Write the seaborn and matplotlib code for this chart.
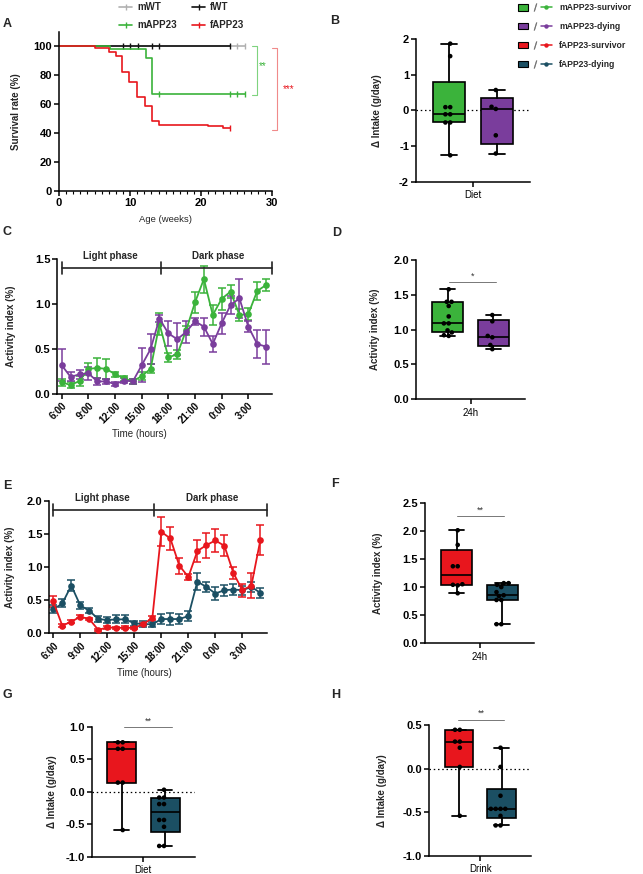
import numpy as np
import pandas as pd
import matplotlib
matplotlib.use("Agg")
import matplotlib.pyplot as plt
import seaborn as sns
from matplotlib.lines import Line2D
from matplotlib.patches import Patch
from matplotlib.legend_handler import HandlerTuple

# ---------------- DATA ----------------
# Panel A: Kaplan-Meier survival (weeks, %)
fWT_t = [0, 24.1]
fWT_s = [100, 100]
fWT_cens = [9.0, 10.0, 11.1, 13.1, 14.1, 24.1]
mWT_t = [0, 26.2]
mWT_s = [100, 100]
mWT_cens = [25.0, 26.2]
mAPP_t = [0, 7.2, 12.2, 13.1, 26.2]
mAPP_s = [100, 98, 91.5, 66.7, 66.7]
mAPP_cens = [14.1, 24.1, 25.0, 26.2]
fAPP_t = [0, 5.1, 7.1, 8.0, 8.9, 9.9, 11.0, 12.1, 13.05, 14.0, 21.0, 23.05, 24.1]
fAPP_s = [100, 99, 95.9, 92.9, 82.3, 75.1, 65.1, 58.7, 48.5, 45.7, 44.6, 43.4, 43.4]
fAPP_cens = [24.1]

# Panels C / E: hourly activity (index 0 = 6:00)
hours = list(range(24))
time_tick_hours = [0, 3, 6, 9, 12, 15, 18, 21]
time_tick_labels = ["6:00", "9:00", "12:00", "15:00", "18:00", "21:00", "0:00", "3:00"]

C_surv = [0.13, 0.10, 0.145, 0.28, 0.29, 0.28, 0.22, 0.175, 0.14, 0.20, 0.28, 0.78,
          0.41, 0.44, 0.71, 1.02, 1.28, 0.88, 1.06, 1.14, 0.88, 0.89, 1.147, 1.214]
C_surv_err = [0.04, 0.03, 0.06, 0.07, 0.11, 0.11, 0.03, 0.03, 0.03, 0.04, 0.05, 0.12,
              0.05, 0.05, 0.05, 0.12, 0.15, 0.11, 0.12, 0.07, 0.07, 0.07, 0.10, 0.07]
C_dying = [0.32, 0.19, 0.22, 0.23, 0.14, 0.14, 0.11, 0.15, 0.14, 0.32, 0.50, 0.84,
           0.675, 0.61, 0.69, 0.81, 0.75, 0.557, 0.787, 0.99, 1.065, 0.75, 0.557, 0.527]
C_dying_err = [0.18, 0.05, 0.05, 0.07, 0.04, 0.03, 0.02, 0.03, 0.03, 0.19, 0.17, 0.04,
               0.14, 0.18, 0.12, 0.04, 0.10, 0.09, 0.12, 0.10, 0.22, 0.06, 0.16, 0.19]

E_surv = [0.48, 0.115, 0.175, 0.25, 0.215, 0.05, 0.09, 0.08, 0.085, 0.08, 0.14, 0.23,
          1.53, 1.43, 1.02, 0.85, 1.24, 1.33, 1.40, 1.32, 0.91, 0.65, 0.72, 1.41]
E_surv_err = [0.08, 0.02, 0.02, 0.02, 0.02, 0.02, 0.02, 0.02, 0.02, 0.02, 0.02, 0.03,
              0.22, 0.18, 0.12, 0.05, 0.17, 0.19, 0.17, 0.16, 0.09, 0.10, 0.19, 0.23]
E_dying = [0.36, 0.45, 0.72, 0.42, 0.34, 0.215, 0.20, 0.21, 0.21, 0.15, 0.14, 0.135,
           0.215, 0.215, 0.215, 0.26, 0.78, 0.70, 0.60, 0.65, 0.66, 0.65, 0.70, 0.61]
E_dying_err = [0.06, 0.06, 0.08, 0.05, 0.04, 0.04, 0.05, 0.06, 0.06, 0.04, 0.04, 0.04,
               0.08, 0.09, 0.08, 0.07, 0.13, 0.08, 0.10, 0.08, 0.08, 0.07, 0.08, 0.08]

# Box panels (individual animals)
B_surv = [1.87, 1.52, 0.09, 0.09, -0.11, -0.11, -0.34, -0.34, -1.26]
B_dying = [0.57, 0.10, 0.04, -0.70, -1.21]
D_surv = [1.58, 1.40, 1.40, 1.34, 1.19, 1.09, 1.09, 0.99, 0.96, 0.92, 0.91]
D_dying = [1.21, 1.12, 0.91, 0.89, 0.78, 0.72]
F_surv = [2.01, 1.75, 1.37, 1.37, 1.05, 1.04, 1.03, 0.89]
F_dying = [1.07, 1.07, 1.04, 1.00, 0.91, 0.855, 0.84, 0.77, 0.77, 0.34, 0.34]
G_surv = [0.76, 0.76, 0.66, 0.66, 0.14, 0.14, -0.59]
G_dying = [0.03, -0.09, -0.09, -0.19, -0.19, -0.435, -0.435, -0.54, -0.835, -0.835]
H_surv = [0.445, 0.445, 0.31, 0.31, 0.24, 0.02, -0.54]
H_dying = [0.24, 0.02, -0.31, -0.46, -0.46, -0.46, -0.46, -0.54, -0.65, -0.65]

# ---------------- STYLE ----------------
GREEN = "#3bb33b"
PURPLE = "#7a3d9c"
RED = "#e8161d"
TEAL = "#1b4f63"
GRAY = "#b0b0b0"
BLACK = "#111111"

sns.set_theme(style="ticks")
plt.rcParams["font.family"] = ["Liberation Sans", "DejaVu Sans"]
plt.rcParams["axes.unicode_minus"] = False
plt.rcParams["axes.edgecolor"] = "black"
plt.rcParams["xtick.color"] = "black"
plt.rcParams["ytick.color"] = "black"

W, H = 643, 874
fig = plt.figure(figsize=(W / 100, H / 100), dpi=100)


def add_ax(l, r, t, b):
    return fig.add_axes([l / W, 1 - b / H, (r - l) / W, (b - t) / H])


def style_ax(ax):
    sns.despine(ax=ax)
    for s in ["left", "bottom"]:
        ax.spines[s].set_linewidth(1.1)
        ax.spines[s].set_color("black")
    ax.tick_params(axis="both", which="major", length=3.5, width=1.1, pad=1.5)


def set_yt(ax, ticks, fmt):
    ax.set_yticks(ticks, labels=[fmt.format(t) for t in ticks], fontsize=8, fontweight="bold")


def ylab(ax, text, xfrac):
    ax.set_ylabel(text, fontsize=7, fontweight="bold")
    ax.yaxis.set_label_coords(xfrac, 0.5)


def surv_at(t, times, surv):
    i = np.searchsorted(times, t, side="right") - 1
    return surv[i]


# ---------------- PANEL A ----------------
axA = add_ax(59, 272.3, 31.7, 190.7)
curves = [
    (mWT_t, mWT_s, mWT_cens, GRAY, "mWT"),
    (fWT_t, fWT_s, fWT_cens, BLACK, "fWT"),
    (mAPP_t, mAPP_s, mAPP_cens, GREEN, "mAPP23"),
    (fAPP_t, fAPP_s, fAPP_cens, RED, "fAPP23"),
]
for t, s, c, col, lab in curves:
    sns.lineplot(x=t, y=s, drawstyle="steps-post", color=col, lw=1.2, ax=axA,
                 estimator=None, sort=False)
    axA.plot(c, [surv_at(ci, t, s) for ci in c], marker="|", ls="none", ms=4.5,
             mew=1.0, color=col, clip_on=False)
axA.set_xlim(0, 30)
axA.set_ylim(0, 110)
style_ax(axA)
axA.set_xticks([0, 10, 20, 30], labels=["0", "10", "20", "30"], fontsize=8, fontweight="bold")
axA.set_xticks(np.arange(0, 31, 1), minor=True)
axA.tick_params(axis="x", which="minor", length=2, width=0.8)
set_yt(axA, [0, 20, 40, 60, 80, 100], "{:d}")
axA.set_xlabel("Age (weeks)", fontsize=6.8)
axA.xaxis.set_label_coords(0.5, -0.15)
ylab(axA, "Survival rate (%)", -0.18)
# significance brackets
axA.plot([27.1, 27.8, 27.8, 27.1], [99.8, 99.8, 66.3, 66.3], color="#7fd37f", lw=0.8, clip_on=False)
axA.text(28.7, 86, "**", color=GREEN, fontsize=7, ha="center", va="center", clip_on=False)
axA.plot([29.9, 30.6, 30.6, 29.9], [99, 99, 42, 42], color="#f08a8a", lw=0.8, clip_on=False)
axA.text(32.3, 70, "***", color=RED, fontsize=7, ha="center", va="center", clip_on=False)

handlesA = [Line2D([0], [0], color=col, lw=1.2, marker="|", ms=4, mew=1.0) for _, _, _, col, _ in curves]
labelsA = [lab for *_, lab in curves]
# column-major: col1 = mWT, mAPP23 ; col2 = fWT, fAPP23
order = [0, 2, 1, 3]
fig.legend([handlesA[i] for i in order], [labelsA[i] for i in order], ncol=2,
           loc="upper left", bbox_to_anchor=(119 / W, 1 - 2.5 / H), frameon=False,
           prop={"weight": "bold", "size": 7}, handlelength=1.35, handletextpad=0.5,
           columnspacing=1.6, labelspacing=0.8, borderpad=0, borderaxespad=0)


# ---------------- BOX PANELS ----------------
def box_stats(vals):
    v = np.asarray(vals, dtype=float)
    q1, med, q3 = np.percentile(v, [25, 50, 75], method="weibull")
    return dict(med=med, q1=q1, q3=q3, whislo=v.min(), whishi=v.max(), fliers=[])


def box_panel(ax, cond, surv, dying, colors, ylim, yticks, yfmt, ylabel, ylabx,
              zero=False, sig=None):
    df = pd.DataFrame({
        "cond": [cond] * (len(surv) + len(dying)),
        "group": ["survivor"] * len(surv) + ["dying"] * len(dying),
        "value": list(surv) + list(dying),
    })
    sns.swarmplot(data=df, x="cond", y="value", hue="group", hue_order=["survivor", "dying"],
                  palette=["black", "black"], dodge=True, size=3.3, ax=ax, legend=False,
                  zorder=4)
    bp = ax.bxp([box_stats(surv), box_stats(dying)], positions=[-0.21, 0.21], widths=0.28,
                patch_artist=True, showfliers=False, manage_ticks=False,
                boxprops=dict(edgecolor="black", linewidth=1.2),
                medianprops=dict(color="black", linewidth=1.2),
                whiskerprops=dict(color="black", linewidth=1.3),
                capprops=dict(color="black", linewidth=1.3), zorder=2)
    for p, c in zip(bp["boxes"], colors):
        p.set_facecolor(c)
    if zero:
        ax.axhline(0, color="black", lw=0.9, ls=(0, (1.2, 2.2)), zorder=1)
    ax.set_xlim(-0.5, 0.5)
    ax.set_ylim(*ylim)
    style_ax(ax)
    ax.set_xticks([0], labels=[cond], fontsize=7)
    ax.tick_params(axis="x", pad=2.5)
    ax.set_xlabel("")
    set_yt(ax, yticks, yfmt)
    ylab(ax, ylabel, ylabx)
    if sig is not None:
        x0, x1, y, ys, txt = sig
        ax.plot([x0, x1], [y, y], color="#777777", lw=0.7, clip_on=False)
        ax.text((x0 + x1) / 2, ys, txt, fontsize=6.5, ha="center", va="center", color="#333333")


axB = add_ax(416, 530, 39, 181.7)
box_panel(axB, "Diet", B_surv, B_dying, [GREEN, PURPLE], (-2, 2), [-2, -1, 0, 1, 2], "{:d}",
          "\u0394 Intake (g/day)", -0.30, zero=True)

axD = add_ax(416, 525, 260, 399.3)
box_panel(axD, "24h", D_surv, D_dying, [GREEN, PURPLE], (0, 2), [0, 0.5, 1.0, 1.5, 2.0], "{:.1f}",
          "Activity index (%)", -0.33, sig=(-0.195, 0.234, 1.68, 1.77, "*"))

axF = add_ax(425, 534, 502.7, 643.3)
box_panel(axF, "24h", F_surv, F_dying, [RED, TEAL], (0, 2.5), [0, 0.5, 1.0, 1.5, 2.0, 2.5], "{:.1f}",
          "Activity index (%)", -0.383, sig=(-0.21, 0.225, 2.27, 2.37, "**"))

axG = add_ax(91.7, 195, 726.7, 856.7)
box_panel(axG, "Diet", G_surv, G_dying, [RED, TEAL], (-1, 1), [-1.0, -0.5, 0.0, 0.5, 1.0], "{:.1f}",
          "\u0394 Intake (g/day)", -0.333, zero=True, sig=(-0.184, 0.275, 0.995, 1.08, "**"))

axH = add_ax(429.3, 531, 725, 856)
box_panel(axH, "Drink", H_surv, H_dying, [RED, TEAL], (-1, 0.5), [-1.0, -0.5, 0.0, 0.5], "{:.1f}",
          "\u0394 Intake (g/day)", -0.419, zero=True, sig=(-0.22, 0.237, 0.56, 0.63, "**"))


# ---------------- TIME-COURSE PANELS ----------------
def time_panel(ax, series, ylim, yticks, ytop_bar, tick_h, txt_y, xlim, ylabx, xlab_xy):
    for vals, errs, col in series:
        ax.errorbar(hours, vals, yerr=errs, fmt="none", ecolor=col, elinewidth=1.1,
                    capsize=2.6, capthick=1.1, zorder=2)
        sns.lineplot(x=hours, y=vals, color=col, marker="o", markersize=4.8,
                     markeredgewidth=0, lw=1.3, ax=ax, zorder=3)
    ax.set_xlim(*xlim)
    ax.set_ylim(*ylim)
    style_ax(ax)
    set_yt(ax, yticks, "{:.1f}")
    ax.set_xticks(time_tick_hours, labels=time_tick_labels, fontsize=7, fontweight="bold",
                  rotation=45, ha="right", rotation_mode="anchor")
    ax.set_xlabel("Time (hours)", fontsize=7)
    ax.xaxis.set_label_coords(*xlab_xy)
    ylab(ax, "Activity index (%)", ylabx)
    # phase bar
    x_mid, x_end = 11.2, xlim[1]
    ax.plot([0, x_end], [ytop_bar, ytop_bar], color="#222222", lw=1.2, clip_on=False)
    for xv in [0, x_mid, x_end]:
        ax.plot([xv, xv], [ytop_bar - tick_h, ytop_bar + tick_h], color="#222222", lw=1.2,
                clip_on=False)
    ax.text(5.45, txt_y, "Light phase", fontsize=7, fontweight="bold", ha="center",
            va="center", clip_on=False)
    ax.text(17.6, txt_y, "Dark phase", fontsize=7, fontweight="bold", ha="center",
            va="center", clip_on=False)


axC = add_ax(57.3, 272.3, 259.3, 394)
time_panel(axC, [(C_surv, C_surv_err, GREEN), (C_dying, C_dying_err, PURPLE)],
           (0, 1.5), [0, 0.5, 1.0, 1.5], 1.40, 0.065, 1.537, (-0.5, 23.7), -0.193,
           (0.38, -0.262))

axE = add_ax(49.5, 266.7, 500.7, 633.3)
time_panel(axE, [(E_dying, E_dying_err, TEAL), (E_surv, E_surv_err, RED)],
           (0, 2.0), [0, 0.5, 1.0, 1.5, 2.0], 1.86, 0.085, 2.045, (-0.42, 23.7), -0.159,
           (0.436, -0.259))

# ---------------- LEGEND B ----------------
slash = Line2D([], [], marker="$/$", ls="none", color="#666666", markersize=5.5, mew=0.3)
legB_items = [(GREEN, "mAPP23-survivor"), (PURPLE, "mAPP23-dying"),
              (RED, "fAPP23-survivor"), (TEAL, "fAPP23-dying")]
handlesB = [(Patch(facecolor=c, edgecolor="black", linewidth=0.8), slash,
             Line2D([], [], color=c, lw=1.1, marker="o", ms=3.2, mew=0)) for c, _ in legB_items]
fig.legend(handlesB, [l for _, l in legB_items], loc="upper left",
           bbox_to_anchor=(518 / W, 1 - 3.5 / H), frameon=False,
           prop={"weight": "bold", "size": 6.2}, handlelength=3.9, handleheight=0.7,
           handletextpad=0.9, labelspacing=1.15, borderpad=0, borderaxespad=0,
           handler_map={tuple: HandlerTuple(ndivide=None, pad=0.15)})

# ---------------- PANEL LETTERS ----------------
for letter, x, y in [("A", 7, 24), ("B", 335, 21), ("C", 7, 232), ("D", 337, 233),
                     ("E", 7, 486), ("F", 334.5, 484), ("G", 7, 695), ("H", 336, 695)]:
    fig.text(x / W, 1 - y / H, letter, fontsize=9, fontweight="bold", ha="center", va="center")

fig.savefig("out.png", dpi=100)
